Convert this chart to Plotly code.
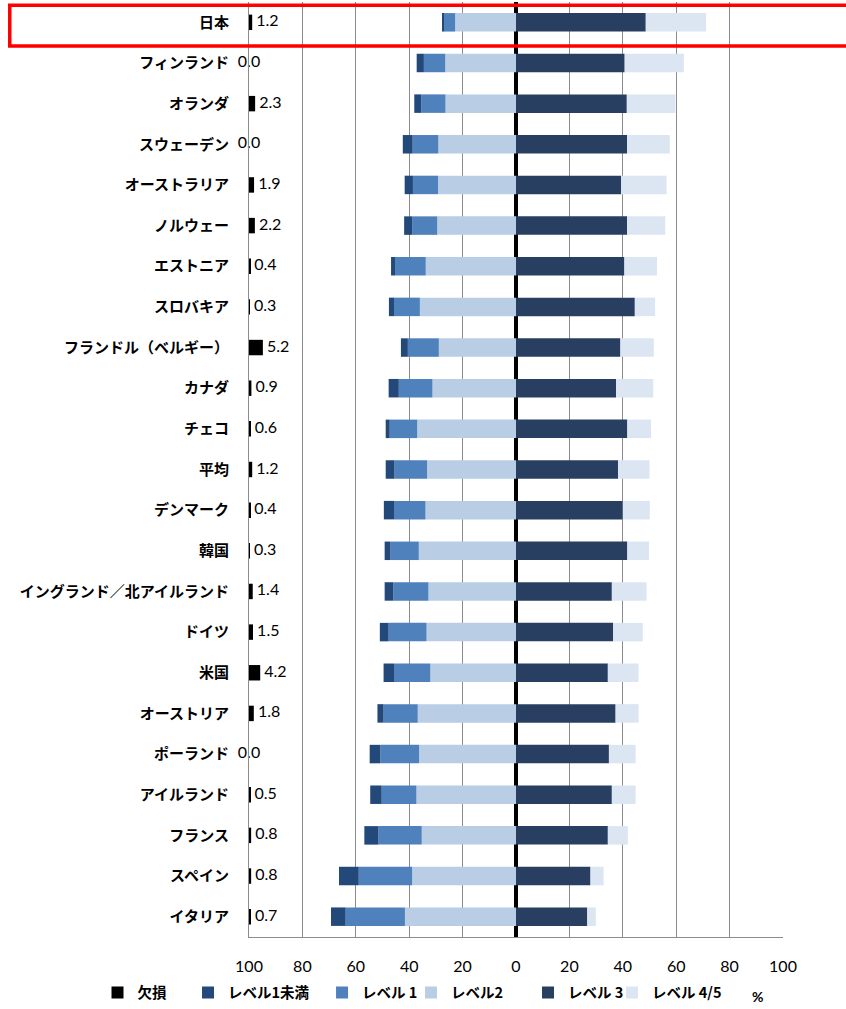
import plotly.graph_objects as go

# PIAAC literacy proficiency distribution (%) by country
countries = [
    "日本", "フィンランド", "オランダ", "スウェーデン", "オーストラリア", "ノルウェー",
    "エストニア", "スロバキア", "フランドル（ベルギー）", "カナダ", "チェコ", "平均",
    "デンマーク", "韓国", "イングランド／北アイルランド", "ドイツ", "米国", "オーストリア",
    "ポーランド", "アイルランド", "フランス", "スペイン", "イタリア",
]
missing = [1.2, 0.0, 2.3, 0.0, 1.9, 2.2, 0.4, 0.3, 5.2, 0.9, 0.6, 1.2,
           0.4, 0.3, 1.4, 1.5, 4.2, 1.8, 0.0, 0.5, 0.8, 0.8, 0.7]
below1 = [0.6, 2.7, 2.6, 3.7, 3.1, 3.0, 1.5, 1.9, 2.6, 3.8, 1.5, 3.3,
          3.8, 2.2, 3.3, 3.3, 3.9, 2.3, 4.0, 4.3, 5.3, 7.4, 5.5]
level1 = [4.3, 8.0, 9.1, 9.6, 9.4, 9.4, 11.5, 9.7, 11.6, 12.6, 10.3, 12.2,
          11.8, 10.6, 13.1, 14.2, 13.6, 12.8, 14.5, 13.0, 16.2, 20.0, 22.2]
level2 = [22.8, 26.5, 26.4, 29.1, 29.2, 29.5, 33.8, 36.0, 28.9, 31.3, 37.0, 33.3,
          33.9, 36.4, 32.8, 33.5, 32.1, 36.8, 36.3, 37.3, 35.3, 38.9, 41.6]
level3 = [48.6, 40.7, 41.5, 41.6, 39.4, 41.6, 40.6, 44.5, 39.1, 37.5, 41.7, 38.2,
          40.0, 41.7, 35.9, 36.4, 34.4, 37.3, 34.8, 35.9, 34.4, 27.9, 26.7]
level45 = [22.6, 22.2, 18.2, 16.0, 17.0, 14.3, 12.2, 7.6, 12.5, 13.9, 8.9, 11.8,
           10.1, 8.1, 13.0, 11.1, 11.5, 8.6, 10.0, 8.9, 7.5, 4.9, 3.2]

axis_ticks = [-100, -80, -60, -40, -20, 0, 20, 40, 60, 80, 100]
axis_ticktext = ["100", "80", "60", "40", "20", "0", "20", "40", "60", "80", "100"]

C_MISSING = "#000000"
C_BELOW1 = "#23497b"
C_L1 = "#4f81bd"
C_L2 = "#b9cde5"
C_L3 = "#283f61"
C_L45 = "#dce6f2"

NUM_FONT = "Lato"
JP_FONT = "Noto Sans CJK JP"
BAR_W = 0.455

fig = go.Figure()

# Left side: lower proficiency levels stacked outward from 0
left_series = [
    ("レベル2", level2, C_L2, "legend4"),
    ("レベル 1", level1, C_L1, "legend3"),
    ("レベル1未満", below1, C_BELOW1, "legend2"),
]
for name, vals, color, lg in left_series:
    fig.add_trace(go.Bar(
        y=countries, x=[-v for v in vals], orientation="h", name=name,
        marker=dict(color=color, line=dict(width=0)), width=BAR_W,
        legend=lg, hoverinfo="skip",
    ))

# Right side: higher proficiency levels
right_series = [
    ("レベル 3", level3, C_L3, "legend5"),
    ("レベル 4/5", level45, C_L45, "legend6"),
]
for name, vals, color, lg in right_series:
    fig.add_trace(go.Bar(
        y=countries, x=vals, orientation="h", name=name,
        marker=dict(color=color, line=dict(width=0)), width=BAR_W,
        legend=lg, hoverinfo="skip",
    ))

# Missing responses: drawn from the left edge on an overlaid axis
fig.add_trace(go.Bar(
    y=countries, x=missing, orientation="h", name="欠損",
    marker=dict(color=C_MISSING, line=dict(width=0)), width=0.38,
    xaxis="x2", legend="legend", hoverinfo="skip",
))
fig.add_trace(go.Scatter(
    y=countries, x=missing, mode="text",
    text=[" %.1f" % v if v > 0 else "%.1f" % v for v in missing],
    textposition=["middle right" if v > 0 else "middle center" for v in missing],
    textfont=dict(family=NUM_FONT, size=16, color="#000000"),
    xaxis="x2", showlegend=False, cliponaxis=False, hoverinfo="skip",
))

# Highlight box around the 日本 row
fig.add_shape(type="rect", xref="paper", yref="paper",
              x0=-0.448, x1=1.15, y0=0.953, y1=0.9965,
              line=dict(color="#ff0000", width=3.5), fillcolor="rgba(0,0,0,0)")

fig.add_annotation(text="%", xref="paper", yref="paper", x=0.953, y=-0.064,
                   showarrow=False, xanchor="center", yanchor="middle",
                   font=dict(family=NUM_FONT, size=14, color="#000000", weight="bold"))

legend_common = dict(
    orientation="h", yanchor="bottom", xanchor="left", y=-0.0765,
    bgcolor="rgba(0,0,0,0)", itemwidth=30, tracegroupgap=0,
    font=dict(family=JP_FONT, size=14.5, color="#000000", weight="bold"),
)
legend_x = {"legend": -0.2837, "legend2": -0.1142, "legend3": 0.1368,
            "legend4": 0.3034, "legend5": 0.5225, "legend6": 0.6798}

fig.update_layout(
    width=846, height=1009,
    margin=dict(l=249, r=63, t=2, b=72, pad=0, autoexpand=False),
    paper_bgcolor="#ffffff", plot_bgcolor="#ffffff",
    barmode="relative", bargap=0.5,
    showlegend=True,
    xaxis=dict(
        range=[-100, 100], tickvals=axis_ticks, ticktext=axis_ticktext,
        showgrid=True, gridcolor="#8c8c8c", gridwidth=1,
        zeroline=True, zerolinecolor="#000000", zerolinewidth=4,
        showline=True, linecolor="#8c8c8c", linewidth=1,
        ticks="outside", ticklen=15, tickcolor="rgba(0,0,0,0)",
        tickfont=dict(family=NUM_FONT, size=16, color="#000000"),
        fixedrange=True, automargin=False,
    ),
    xaxis2=dict(range=[0, 200], overlaying="x", visible=False, anchor="y",
                fixedrange=True),
    yaxis=dict(
        categoryorder="array", categoryarray=countries,
        range=[len(countries) - 0.5, -0.5], autorange=False,
        showgrid=False, zeroline=False,
        showline=True, linecolor="#8c8c8c", linewidth=1,
        ticks="", ticklabelstandoff=16,
        tickfont=dict(family=JP_FONT, size=15, color="#000000", weight="bold"),
        fixedrange=True, automargin=False,
    ),
)
for key, xpos in legend_x.items():
    fig.update_layout({key: dict(legend_common, x=xpos)})

fig.write_html("out.html")
